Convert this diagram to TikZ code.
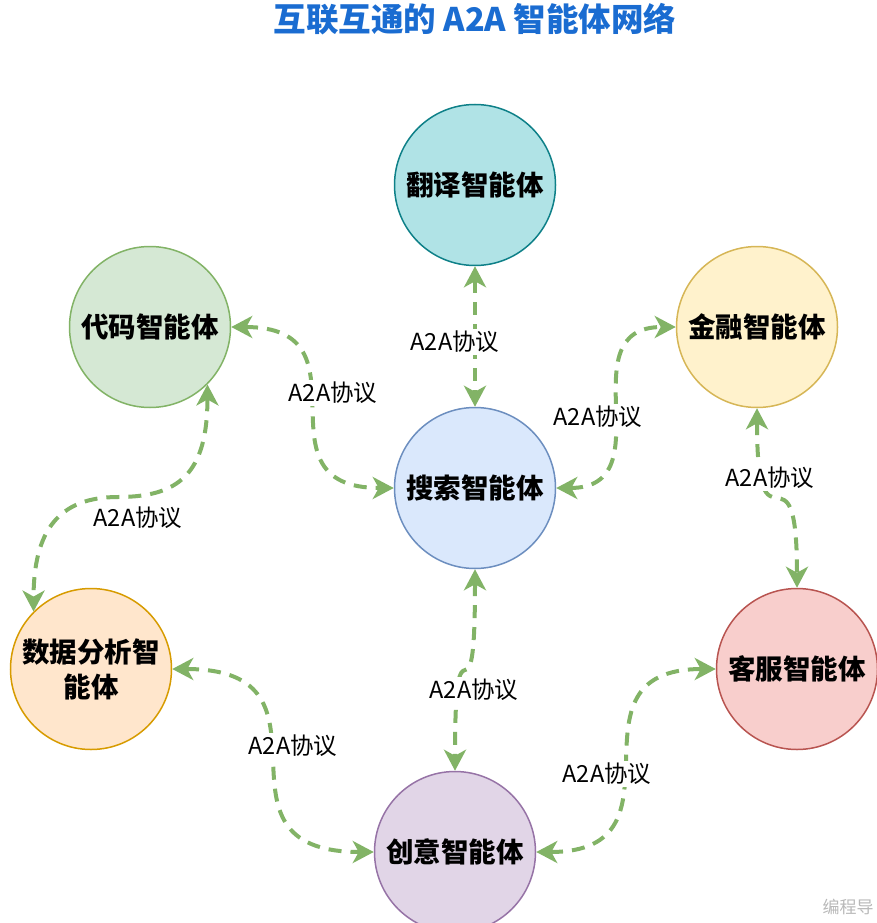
\documentclass[tikz,border=0pt]{standalone}
\usepackage{fontspec}
\setmainfont{Noto Sans CJK SC}
\usetikzlibrary{arrows.meta}

\definecolor{titleblue}{RGB}{26,108,209}
\definecolor{linkgreen}{HTML}{82B366}
\definecolor{tealF}{HTML}{B0E3E6}\definecolor{tealD}{HTML}{0E8088}
\definecolor{greenF}{HTML}{D5E8D4}\definecolor{greenD}{HTML}{82B366}
\definecolor{yellowF}{HTML}{FFF2CC}\definecolor{yellowD}{HTML}{D6B656}
\definecolor{blueF}{HTML}{DAE8FC}\definecolor{blueD}{HTML}{6C8EBF}
\definecolor{orangeF}{HTML}{FFE6CC}\definecolor{orangeD}{HTML}{D79B00}
\definecolor{redF}{HTML}{F8CECC}\definecolor{redD}{HTML}{B85450}
\definecolor{purpleF}{HTML}{E1D5E7}\definecolor{purpleD}{HTML}{9673A6}

\begin{document}
\begin{tikzpicture}[x=1pt,y=-1pt,
  agent/.style={circle, minimum size=161pt, inner sep=0pt, line width=1.5pt,
    align=center, font=\bfseries\fontsize{27.5}{35}\selectfont},
  link/.style={draw=linkgreen, line width=4pt, dash pattern=on 13pt off 9pt,
    {Stealth[length=21pt,width=22pt,inset=6pt]}-{Stealth[length=21pt,width=22pt,inset=6pt]}},
  lbl/.style={fill=white, inner sep=2pt, font=\fontsize{23.5}{28}\selectfont}]
\useasboundingbox (0,0) rectangle (877,923);

% title
\node[text=titleblue, font=\bfseries\fontsize{32.5}{38}\selectfont] (title) at (475,19) {互联互通的 A2A 智能体网络};

% agents
\node[agent, fill=tealF, draw=tealD]     (fy) at (475,185) {翻译智能体};
\node[agent, fill=greenF, draw=greenD]   (dm) at (150,327) {代码智能体};
\node[agent, fill=yellowF, draw=yellowD] (jr) at (757,327) {金融智能体};
\node[agent, fill=blueF, draw=blueD]     (ss) at (475,488) {搜索智能体};
\node[agent, fill=orangeF, draw=orangeD] (sj) at (91,669)  {数据分析智\\能体};
\node[agent, fill=redF, draw=redD]       (kf) at (797,669) {客服智能体};
\node[agent, fill=purpleF, draw=purpleD] (cy) at (455,852) {创意智能体};

% A2A links
\draw[link] (fy.south) -- (ss.north);
\draw[link] (dm.east) .. controls +(145,0) and +(-145,0) .. (ss.west);
\draw[link] (ss.east) .. controls +(110,0) and +(-110,0) .. (jr.west);
\draw[link] (jr.south) .. controls +(0,160) and +(0,-160) .. (kf.north);
\coordinate (bend) at (118,497);
\draw[link] (dm.-45) .. controls +(0,90) and +(60,0) .. (bend)
                     .. controls +(-60,0) and +(0,-80) .. (sj.135);
\draw[link] (ss.south) .. controls +(0,180) and +(0,-180) .. (cy.north);
\draw[link] (sj.east) .. controls +(180,0) and +(-180,0) .. (cy.west);
\draw[link] (cy.east) .. controls +(160,0) and +(-160,0) .. (kf.west);

% link labels
\node[lbl] (l1) at (455,342) {A2A协议};
\node[lbl] (l2) at (333,393) {A2A协议};
\node[lbl] (l3) at (598,417) {A2A协议};
\node[lbl] (l4) at (770,478) {A2A协议};
\node[lbl] (l5) at (138,518) {A2A协议};
\node[lbl] (l6) at (474,690) {A2A协议};
\node[lbl] (l7) at (293,746) {A2A协议};
\node[lbl] (l8) at (607,774) {A2A协议};

% corner mark
\node[text=black!28, font=\fontsize{17}{20}\selectfont] (wm) at (848,907) {编程导};
\end{tikzpicture}
\end{document}
